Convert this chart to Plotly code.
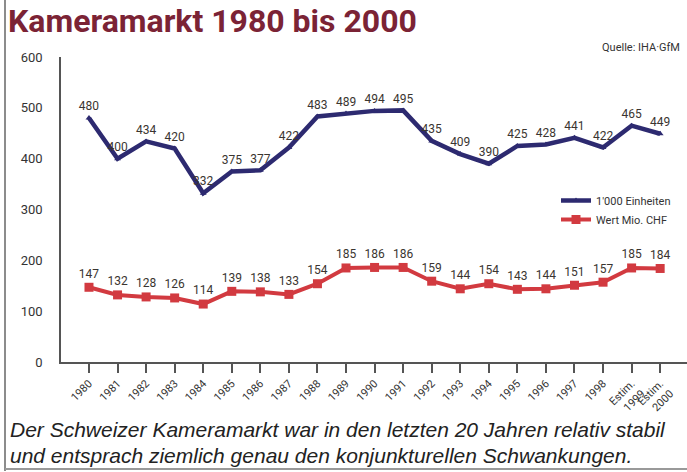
import plotly.graph_objects as go

years = ["1980", "1981", "1982", "1983", "1984", "1985", "1986", "1987", "1988", "1989",
         "1990", "1991", "1992", "1993", "1994", "1995", "1996", "1997", "1998",
         "Estim.<br>1999", "Estim.<br>2000"]
einheiten = [480, 400, 434, 420, 332, 375, 377, 422, 483, 489, 494, 495, 435, 409, 390,
             425, 428, 441, 422, 465, 449]
wert = [147, 132, 128, 126, 114, 139, 138, 133, 154, 185, 186, 186, 159, 144, 154,
        143, 144, 151, 157, 185, 184]

xs = list(range(len(years)))
base = "Roboto, sans-serif"

fig = go.Figure()
fig.add_trace(go.Scatter(
    x=xs, y=einheiten, name="1'000 Einheiten", mode="lines+markers+text",
    line=dict(color="#2d2a70", width=4.5),
    marker=dict(symbol="triangle-up", size=6, color="#2d2a70"),
    text=[str(v) for v in einheiten], textposition="top center",
    textfont=dict(family=base, size=12, color="#3a3530"),
))
fig.add_trace(go.Scatter(
    x=xs, y=wert, name="Wert Mio. CHF", mode="lines+markers+text",
    line=dict(color="#d23a40", width=4),
    marker=dict(symbol="square", size=9, color="#d23a40"),
    text=[str(v) for v in wert], textposition="top center",
    textfont=dict(family=base, size=12, color="#3a3530"),
))

# paper coords of the plot box: x 61..687 px, y 57..362 px
def px_x(p):
    return (p - 61) / 626

def px_y(p):
    return (362 - p) / 305

fig.update_layout(
    width=687, height=472,
    margin=dict(l=61, r=0, t=57, b=110),
    paper_bgcolor="white", plot_bgcolor="white",
    font=dict(family=base, color="#333333"),
    title=dict(text="<b>Kameramarkt 1980 bis 2000</b>", x=8 / 687, xanchor="left",
               y=1 - 21 / 472, yanchor="middle", yref="container",
               font=dict(family=base, size=32, color="#7b2335")),
    xaxis=dict(range=[-0.98, 20.94], tickvals=xs, ticktext=years, tickangle=-45,
               automargin=False,
               showline=True, linecolor="#555555", linewidth=1.5,
               ticks="outside", ticklen=9, tickcolor="#555555", tickwidth=1.5,
               showgrid=False, zeroline=False,
               tickfont=dict(family=base, size=11, color="#333333")),
    yaxis=dict(range=[0, 600], dtick=100, showline=True, linecolor="#555555", linewidth=1.5,
               automargin=False,
               showgrid=False, zeroline=False, ticklabelstandoff=14,
               tickfont=dict(family=base, size=13, color="#333333")),
    showlegend=True,
    legend=dict(x=px_x(556), y=px_y(210), xanchor="left", yanchor="middle",
                bgcolor="rgba(0,0,0,0)", font=dict(family=base, size=11, color="#333333"),
                itemwidth=30, tracegroupgap=2),
)

fig.add_annotation(text="Quelle: IHA·GfM", xref="paper", yref="paper",
                   x=px_x(600), y=px_y(48), xanchor="left", yanchor="middle",
                   showarrow=False, font=dict(family=base, size=11, color="#333333"))
fig.add_annotation(text="<i>Der Schweizer Kameramarkt war in den letzten 20 Jahren relativ stabil</i>",
                   xref="paper", yref="paper", x=px_x(8), y=px_y(430),
                   xanchor="left", yanchor="middle", showarrow=False,
                   font=dict(family="Liberation Sans, Arial, sans-serif", size=21, color="#222222"))
fig.add_annotation(text="<i>und entsprach ziemlich genau den konjunkturellen Schwankungen.</i>",
                   xref="paper", yref="paper", x=px_x(8), y=px_y(455),
                   xanchor="left", yanchor="middle", showarrow=False,
                   font=dict(family="Liberation Sans, Arial, sans-serif", size=21, color="#222222"))

# frame lines
fig.add_shape(type="line", xref="paper", yref="paper", x0=px_x(5), x1=px_x(5),
              y0=px_y(0), y1=px_y(471), line=dict(color="#666666", width=1.5))
fig.add_shape(type="line", xref="paper", yref="paper", x0=px_x(5), x1=px_x(687),
              y0=px_y(469), y1=px_y(469), line=dict(color="#999999", width=2))

fig.write_html("out.html", config={"displayModeBar": False},
               post_script="document.body.style.margin='0';")
